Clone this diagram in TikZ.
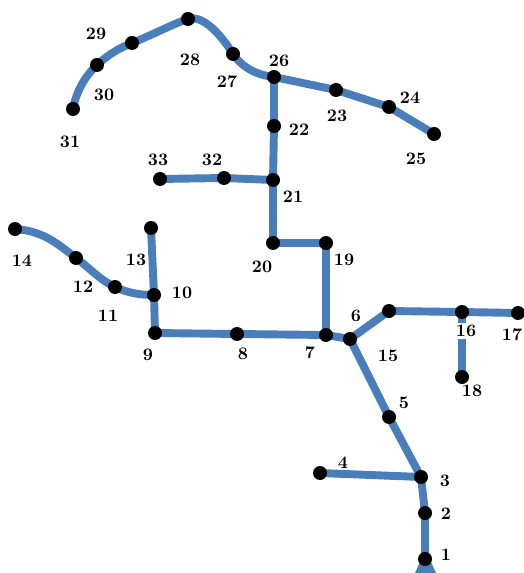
\documentclass[tikz,border=0pt]{standalone}
\definecolor{leitung}{RGB}{74,126,187}
\tikzset{
    punkt/.style={circle, fill=black, inner sep=0pt, minimum size=0.28cm},
    nummer/.style={font=\fontsize{10}{11}\selectfont\bfseries, inner sep=1pt},
    strang/.style={draw=leitung, line width=4.5pt, line join=round}
}

\begin{document}
\begin{tikzpicture}[x=0.02cm, y=-0.02cm]
    \useasboundingbox (0,0) rectangle (523,573);
    % Knoten
    \path coordinate (b1) at (425,559)
        coordinate (b2) at (425,513)
        coordinate (b3) at (421,477)
        coordinate (b4) at (320,473)
        coordinate (b5) at (389,417)
        coordinate (b6) at (350,339)
        coordinate (b7) at (326,335)
        coordinate (b8) at (237,334)
        coordinate (b9) at (155,333)
        coordinate (b10) at (154,295)
        coordinate (b11) at (115,287)
        coordinate (b12) at (76,258)
        coordinate (b13) at (151,228)
        coordinate (b14) at (15,229)
        coordinate (b15) at (389,311)
        coordinate (b16) at (462,312)
        coordinate (b17) at (518,313)
        coordinate (b18) at (462,377)
        coordinate (b19) at (326,243)
        coordinate (b20) at (273,243)
        coordinate (b21) at (273,180)
        coordinate (b22) at (274,126)
        coordinate (b23) at (336,90)
        coordinate (b24) at (389,107)
        coordinate (b25) at (434,134)
        coordinate (b26) at (274,77)
        coordinate (b27) at (233,54)
        coordinate (b28) at (188,19)
        coordinate (b29) at (132,43)
        coordinate (b30) at (97,65)
        coordinate (b31) at (73,109)
        coordinate (b32) at (224,178)
        coordinate (b33) at (160,179);
    % Einspeisung
    \fill[leitung] (420,562) -- (431,562) -- (436,573) -- (415,573) -- cycle;
    % Leitungen
    \draw[strang] (b1) -- (b2) -- (b3) -- (b5) -- (b6) -- (b7) -- (b8) -- (b9) -- (b10) -- (b13);
    \draw[strang] (b3) -- (b4);
    \draw[strang] (b6) -- (b15) -- (b16) -- (b17);
    \draw[strang] (b16) -- (b18);
    \draw[strang] (b7) -- (b19) -- (b20) -- (b21) -- (b22) -- (b26);
    \draw[strang] (b21) -- (b32) -- (b33);
    \draw[strang] (b26) -- (b23) -- (b24) -- (b25);
    \draw[strang] (b14) .. controls (45,231) and (60,246) .. (b12)
        .. controls (92,270) and (100,280) .. (b11)
        .. controls (128,293) and (140,295) .. (b10);
    \draw[strang] (b31) .. controls (76,92) and (85,76) .. (b30)
        .. controls (110,53) and (120,48) .. (b29)
        .. controls (150,36) and (175,23) .. (b28)
        .. controls (201,15) and (218,30) .. (b27)
        .. controls (241,66) and (255,75) .. (b26);
    % Punkte
    \foreach \i in {1,...,33} {
        \node[punkt] (p\i) at (b\i) {};
    }
    % Nummern
    \path node[nummer] (l1) at (446,555) {1}
        node[nummer] (l2) at (446,514) {2}
        node[nummer] (l3) at (445,481) {3}
        node[nummer] (l4) at (343,463) {4}
        node[nummer] (l5) at (404,403) {5}
        node[nummer] (l6) at (356,316) {6}
        node[nummer] (l7) at (310,353) {7}
        node[nummer] (l8) at (243,354) {8}
        node[nummer] (l9) at (148,355) {9}
        node[nummer] (l10) at (182,293) {10}
        node[nummer] (l11) at (108,316) {11}
        node[nummer] (l12) at (83,287) {12}
        node[nummer] (l13) at (136,260) {13}
        node[nummer] (l14) at (22,261) {14}
        node[nummer] (l15) at (388,356) {15}
        node[nummer, fill=white] (l16) at (466,331) {16}
        node[nummer] (l17) at (512,335) {17}
        node[nummer] (l18) at (472,391) {18}
        node[nummer] (l19) at (344,260) {19}
        node[nummer] (l20) at (262,267) {20}
        node[nummer] (l21) at (293,197) {21}
        node[nummer] (l22) at (299,130) {22}
        node[nummer] (l23) at (337,116) {23}
        node[nummer] (l24) at (410,98) {24}
        node[nummer] (l25) at (416,159) {25}
        node[nummer] (l26) at (279,61) {26}
        node[nummer] (l27) at (227,82) {27}
        node[nummer] (l28) at (190,60) {28}
        node[nummer] (l29) at (96,34) {29}
        node[nummer] (l30) at (104,95) {30}
        node[nummer] (l31) at (70,142) {31}
        node[nummer] (l32) at (212,160) {32}
        node[nummer] (l33) at (158,160) {33};
\end{tikzpicture}
\end{document}
